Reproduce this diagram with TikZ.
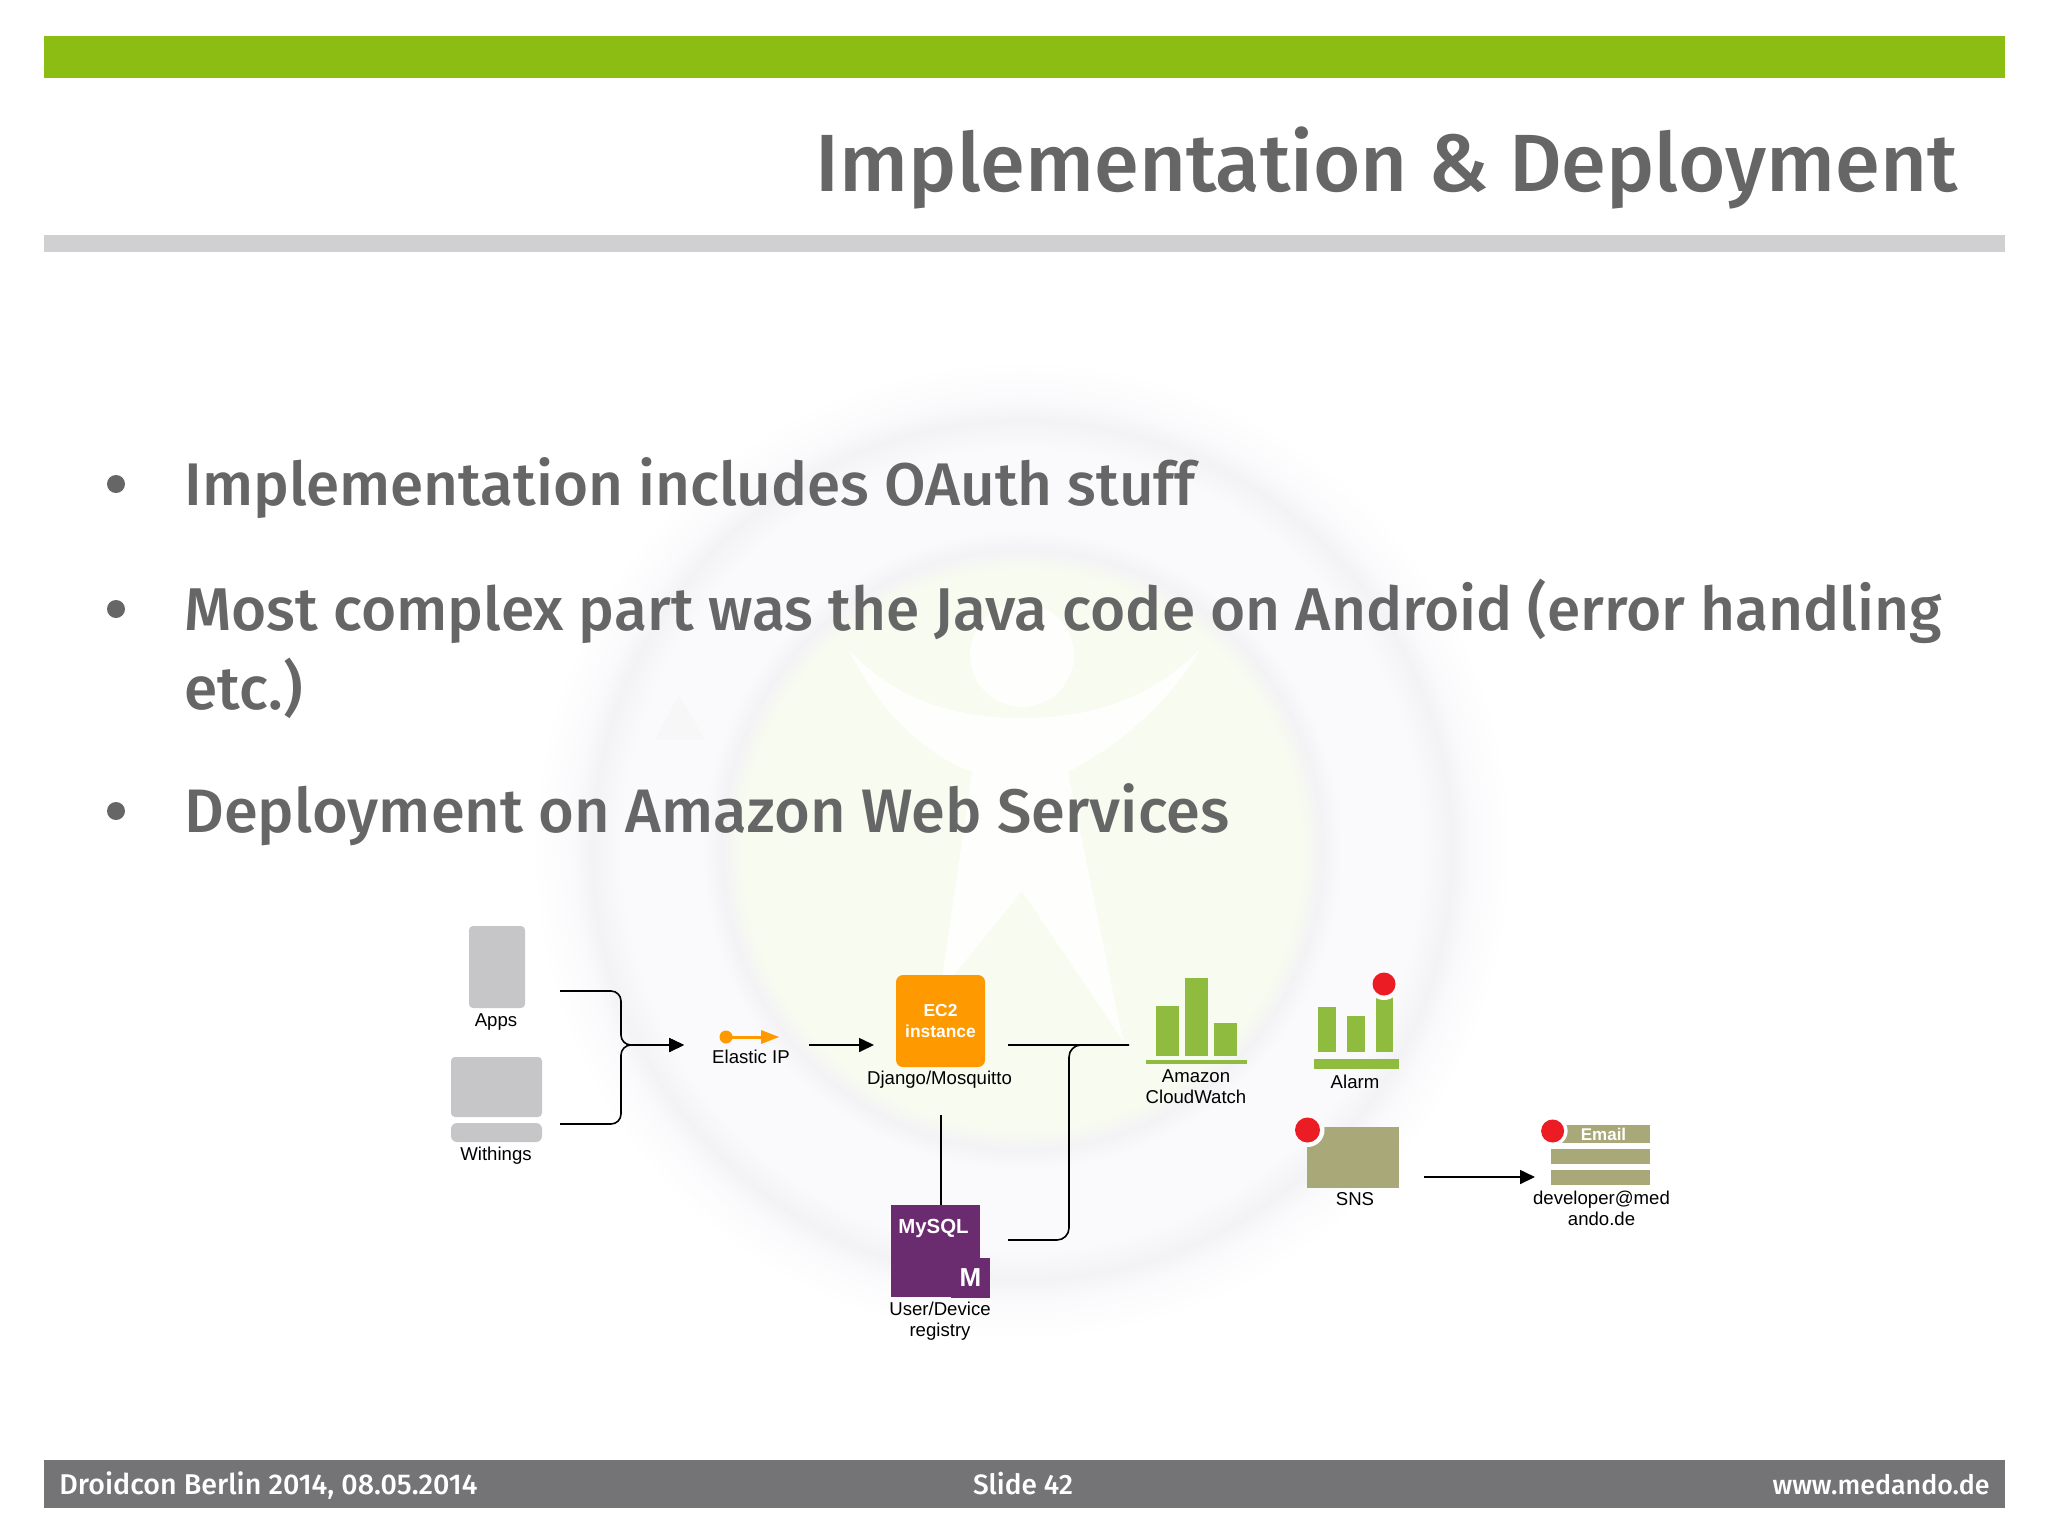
\documentclass[tikz,border=0pt]{standalone}
\usepackage{fontspec}
\setmainfont{Liberation Sans}
\newfontfamily\slidefont{Fira Sans}[BoldFont={Fira Sans Medium}]
\usetikzlibrary{arrows.meta,calc}
\definecolor{topgreen}{HTML}{8CBD12}
\definecolor{rulegray}{HTML}{D0D0D2}
\definecolor{footgray}{HTML}{747375}
\definecolor{slidetext}{HTML}{666666}
\definecolor{iconorange}{HTML}{FF9900}
\definecolor{iconpurple}{HTML}{6B2C6F}
\definecolor{icongreen}{HTML}{8FBC3F}
\definecolor{iconolive}{HTML}{A9A878}
\definecolor{icongray}{HTML}{C6C6C8}
\definecolor{iconred}{HTML}{EC1C24}
\definecolor{wmgreen}{HTML}{F8FBF0}
\definecolor{wmgrayA}{HTML}{FAFAFC}
\definecolor{wmgrayB}{HTML}{F3F3F5}
\pgfdeclareradialshading{wmdisc}{\pgfpoint{0bp}{0bp}}{%
 color(0bp)=(wmgreen); color(14bp)=(wmgreen); color(15bp)=(wmgrayB); color(16bp)=(wmgrayA);
 color(20bp)=(wmgrayA); color(21.5bp)=(wmgrayB); color(22.5bp)=(wmgrayA); color(24.5bp)=(white); color(25bp)=(white); color(50bp)=(white)}
\tikzset{
  x=0.5pt,y=-0.5pt,
  lbl/.style={font=\fontsize{9.3pt}{10.6pt}\selectfont,text=black,inner sep=0pt,align=center},
  foottxt/.style={text=white,inner sep=0pt},
  bullettxt/.style={text=slidetext,inner sep=0pt,anchor=base west},
  box/.style={inner sep=0pt,outer sep=0pt,draw=none},
  grp/.style={inner sep=0pt,outer sep=0pt,draw=none,fill=none},
  conn/.style={draw=black,line width=0.8pt},
  thinconn/.style={draw=black,line width=0.6pt},
  arr/.style={conn,-{Triangle[length=7.5pt,width=7pt]}},
  dot/.style={circle,fill=iconred,inner sep=0pt,minimum size=11.5pt},
  bar/.style={box,fill=icongreen},
  oliv/.style={box,fill=iconolive}
}
\newcommand{\sfsz}[1]{\slidefont\bfseries\fontsize{#1pt}{#1pt}\selectfont}
\newcommand{\mybox}[7]{\node[#1,minimum width=#6*0.5pt-#4*0.5pt,minimum height=#7*0.5pt-#5*0.5pt] (#2) at ({(#4+#6)/2},{(#5+#7)/2}) {#3};}
\begin{document}
\begin{tikzpicture}
\useasboundingbox (0,0) rectangle (2048,1536);
\fill[white] (0,0) rectangle (2048,1536);
% watermark
\shade[shading=wmdisc] (1022,850) circle [radius=500];
\fill[wmgrayB!70!white] (655,740) -- (679,695) -- (705,740) -- cycle;
\fill[white!90!wmgreen] (1022,655) circle [radius=52];
\fill[white!90!wmgreen]
 (848,649) .. controls (890,730) and (940,760) .. (972,772)
 -- (940,992) -- (1022,891) -- (1123,1041) -- (1068,772)
 .. controls (1110,750) and (1165,710) .. (1200,649)
 .. controls (1150,700) and (1090,718) .. (1022,718)
 .. controls (955,718) and (895,700) .. (848,649) -- cycle;
% frame bars
\fill[topgreen] (44,36) rectangle (2005,78);
\fill[rulegray] (44,235) rectangle (2005,252);
\fill[footgray] (44,1460) rectangle (2005,1508);
% title
\node[bullettxt,anchor=base east,font=\sfsz{40.6}] (title) at (1958,191) {Implementation \& Deployment};
% bullets
\node[bullettxt,font=\sfsz{30.1}] (b1) at (184,505.5) {Implementation includes OAuth stuff};
\node[bullettxt,font=\sfsz{30.2}] (b2) at (184,630.5) {Most complex part was the Java code on Android (error handling};
\node[bullettxt,font=\sfsz{30.2}] (b2b) at (184,709.5) {etc.)};
\node[bullettxt,font=\sfsz{30.7}] (b3) at (184,832.5) {Deployment on Amazon Web Services};
\fill[slidetext] (116,484) circle [radius=9];
\fill[slidetext] (116,609) circle [radius=9];
\fill[slidetext] (116,811) circle [radius=9];
% footer
\node[foottxt,anchor=base west,font=\sfsz{14.3}] (fl) at (59,1494) {Droidcon Berlin 2014, 08.05.2014};
\node[foottxt,anchor=base,font=\sfsz{14}] (fc) at (1023,1494) {Slide 42};
\node[foottxt,anchor=base east,font=\sfsz{13.4}] (fr) at (1990,1494) {www.medando.de};
% groups used as connector ends
\mybox{grp}{gApps}{}{430}{980}{560}{1002}
\mybox{grp}{gWith}{}{430}{1113}{560}{1135}
\coordinate (hJ) at (621,1045);
\coordinate (vJ) at (1069,1045);
\mybox{grp}{gElastic}{}{684}{1000}{809}{1090}
\mybox{grp}{gEC2}{}{874}{975}{1008}{1115}
\mybox{grp}{gMysql}{}{874}{1205}{1008}{1275}
\mybox{grp}{gCloud}{}{1129}{1000}{1260}{1090}
\mybox{grp}{gSNS}{}{1290}{1150}{1424}{1204}
\mybox{grp}{gEmail}{}{1535}{1150}{1660}{1204}
% apps
\mybox{box,fill=icongray,rounded corners=2pt}{apps}{}{469}{926}{525}{1008}
\node[lbl] (appsL) at (496,1022) {Apps};
% withings
\mybox{box,fill=icongray,rounded corners=2pt}{with}{}{451}{1057}{542}{1117}
\mybox{box,fill=icongray,rounded corners=3pt}{withB}{}{451}{1123}{542}{1142}
\node[lbl] (withL) at (496,1155.5) {Withings};
% elastic
\fill[iconorange] (726,1037) circle [radius=6.5];
\draw[iconorange,line width=1.5pt] (726,1037) -- (765,1037);
\fill[iconorange] (761,1030) -- (779,1037) -- (761,1044) -- cycle;
\node[lbl] (elasticL) at (751,1056.5) {Elastic IP};
% EC2
\mybox{box,fill=iconorange,rounded corners=3.5pt,text=white,font=\bfseries\fontsize{8.7pt}{10.6pt}\selectfont,align=center}{ec2}{EC2\\instance}{896}{975}{985}{1067}
\node[lbl] (djL) at (939.5,1079.5) {Django/Mosquitto};
% MySQL
\mybox{box,fill=iconpurple}{mysql}{}{891}{1205}{980}{1297}
\mybox{box,fill=iconpurple,text=white,font=\bfseries\fontsize{13pt}{13pt}\selectfont}{mysqlM}{M}{951}{1258}{990}{1298}
\node[text=white,inner sep=0pt,font=\bfseries\fontsize{10.2pt}{12pt}\selectfont] (mysqlT) at (933.5,1228) {MySQL};
\node[lbl] (mysqlL) at (940,1321.5) {User/Device\\registry};
% CloudWatch
\mybox{bar}{cw1}{}{1156}{1006}{1179}{1056}
\mybox{bar}{cw2}{}{1185}{978}{1208}{1056}
\mybox{bar}{cw3}{}{1214}{1023}{1237}{1056}
\mybox{bar}{cwB}{}{1146}{1060}{1247}{1064}
\node[lbl] (cwL) at (1196,1086.5) {Amazon\\CloudWatch};
% Alarm
\mybox{bar}{al1}{}{1318}{1007}{1336}{1052}
\mybox{bar}{al2}{}{1347}{1016}{1365}{1052}
\mybox{bar}{al3}{}{1376}{997}{1393}{1052}
\mybox{bar}{alB}{}{1314}{1059}{1399}{1069}
\begin{scope}
\clip (1376,997) rectangle (1393,1052);
\fill[white] (1384,984) circle [radius=16];
\end{scope}
\node[dot] (alD) at (1384,984) {};
\node[lbl] (alL) at (1355,1082) {Alarm};
% SNS
\mybox{oliv}{sns}{}{1307}{1127}{1399}{1188}
\begin{scope}
\clip (1307,1127) rectangle (1399,1188);
\fill[white] (1307.5,1130) circle [radius=17];
\end{scope}
\node[dot,minimum size=12.5pt] (snD) at (1307.5,1130) {};
\node[lbl] (snL) at (1355,1199) {SNS};
% Email
\mybox{oliv,text=white,font=\bfseries\fontsize{8.5pt}{10pt}\selectfont}{em1}{\hspace*{3pt}Email}{1551}{1125}{1650}{1143}
\mybox{oliv}{em2}{}{1551}{1149}{1650}{1164}
\mybox{oliv}{em3}{}{1551}{1170}{1650}{1185}
\begin{scope}
\clip (1551,1125) rectangle (1650,1143);
\fill[white] (1552.6,1131) circle [radius=15];
\fill[white] (1551,1125) rectangle (1560,1143);
\end{scope}
\node[dot,minimum size=11.5pt] (emD) at (1552.6,1131) {};
\node[lbl] (emL) at (1601.5,1208) {developer@med\\ando.de};
% connectors
\draw[arr,rounded corners=5pt] (gApps.east) -| (hJ) -- (gElastic.west);
\draw[arr,rounded corners=5pt] (gWith.east) -| (hJ) -- (gElastic.west);
\draw[arr] (gElastic.east) -- (gEC2.west);
\draw[conn] (gEC2.east) -- (gCloud.west);
\draw[thinconn] (gEC2.south) -- (gMysql.north);
\draw[conn,rounded corners=6pt] (gMysql.east) -| (vJ) -- (gCloud.west);
\draw[arr] (gSNS.east) -- (gEmail.west);
\end{tikzpicture}
\end{document}
